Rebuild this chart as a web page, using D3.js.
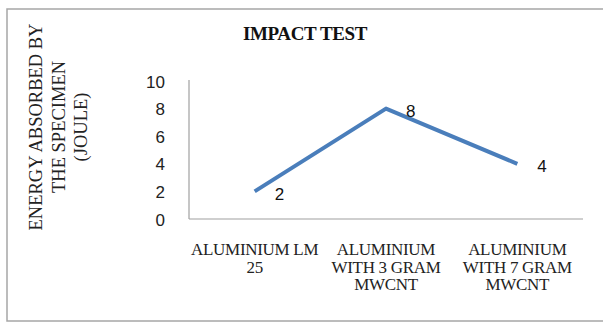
<!DOCTYPE html>
<html>
<head>
<meta charset="utf-8">
<script src="https://cdn.jsdelivr.net/npm/d3@7"></script>
<style>
  html, body { margin: 0; padding: 0; background: #fff; }
  svg { display: block; }
</style>
</head>
<body>
<svg id="chart" width="603" height="323"></svg>
<script>
// Impact test results
const categories = [
  ["ALUMINIUM LM", "25"],
  ["ALUMINIUM", "WITH 3 GRAM", "MWCNT"],
  ["ALUMINIUM", "WITH 7 GRAM", "MWCNT"]
];
const energy = [2, 8, 4];
const yTicks = [0, 2, 4, 6, 8, 10];
const titleText = "IMPACT TEST";
const yTitleLines = ["ENERGY ABSORBED BY", "THE SPECIMEN", "(JOULE)"];

const serif = "'Liberation Serif', 'Times New Roman', serif";
const sans = "'Liberation Sans', Arial, sans-serif";

const svg = d3.select("#chart");

// chart frame
svg.append("rect")
  .attr("x", 7).attr("y", 9)
  .attr("width", 610).attr("height", 312)
  .attr("fill", "#fff")
  .attr("stroke", "#a6a6a6")
  .attr("stroke-width", 1.5);

const plot = { left: 189, right: 583, top: 81, bottom: 219 };

const x = d3.scalePoint()
  .domain(d3.range(categories.length))
  .range([plot.left, plot.right])
  .padding(0.5);

const y = d3.scaleLinear()
  .domain([0, 10])
  .range([plot.bottom, plot.top]);

// axis lines
svg.append("line")
  .attr("x1", plot.left).attr("x2", plot.left)
  .attr("y1", plot.top - 1).attr("y2", plot.bottom)
  .attr("stroke", "#a0a0a0").attr("stroke-width", 1.2);
svg.append("line")
  .attr("x1", plot.left).attr("x2", plot.right)
  .attr("y1", plot.bottom).attr("y2", plot.bottom)
  .attr("stroke", "#a0a0a0").attr("stroke-width", 1.2);

// y tick labels
const yAxis = d3.axisLeft(y).tickValues(yTicks).tickSize(0).tickPadding(0);
const yg = svg.append("g")
  .attr("transform", `translate(${plot.left - 24},0)`)
  .call(yAxis);
yg.select(".domain").remove();
yg.selectAll("text")
  .attr("font-family", sans)
  .attr("font-size", 17)
  .attr("fill", "#222")
  .attr("dy", "0.36em");

// category labels
const xl = svg.append("g")
  .selectAll("text")
  .data(categories)
  .join("text")
  .attr("x", (d, i) => x(i))
  .attr("y", 255)
  .attr("text-anchor", "middle")
  .attr("font-family", serif)
  .attr("font-size", 17)
  .attr("letter-spacing", "-0.3px")
  .attr("fill", "#222");
xl.selectAll("tspan")
  .data(d => d)
  .join("tspan")
  .attr("x", function () { return d3.select(this.parentNode).attr("x"); })
  .attr("dy", (d, j) => j === 0 ? 0 : 17.5)
  .text(d => d);

// series line
const line = d3.line()
  .x((d, i) => x(i))
  .y(d => y(d));
svg.append("path")
  .datum(energy)
  .attr("d", line)
  .attr("fill", "none")
  .attr("stroke", "#4a7ebb")
  .attr("stroke-width", 4)
  .attr("stroke-linejoin", "round");

// data labels
svg.append("g")
  .selectAll("text")
  .data(energy)
  .join("text")
  .attr("x", (d, i) => x(i) + 20)
  .attr("y", d => y(d) + 2)
  .attr("dy", "0.36em")
  .attr("font-family", sans)
  .attr("font-size", 17)
  .attr("fill", "#111")
  .text(d => d);

// title
svg.append("text")
  .attr("x", 305).attr("y", 40)
  .attr("text-anchor", "middle")
  .attr("font-family", serif)
  .attr("font-weight", "bold")
  .attr("font-size", 19)
  .attr("letter-spacing", "-0.4px")
  .attr("fill", "#111")
  .text(titleText);

// y axis title
const yt = svg.append("text")
  .attr("transform", "translate(0,127) rotate(-90)")
  .attr("text-anchor", "middle")
  .attr("font-family", serif)
  .attr("font-size", 18.5)
  .attr("fill", "#222");
yt.selectAll("tspan")
  .data(yTitleLines)
  .join("tspan")
  .attr("x", 0)
  .attr("y", (d, i) => 42 + i * 22.5)
  .text(d => d);
</script>
</body>
</html>
